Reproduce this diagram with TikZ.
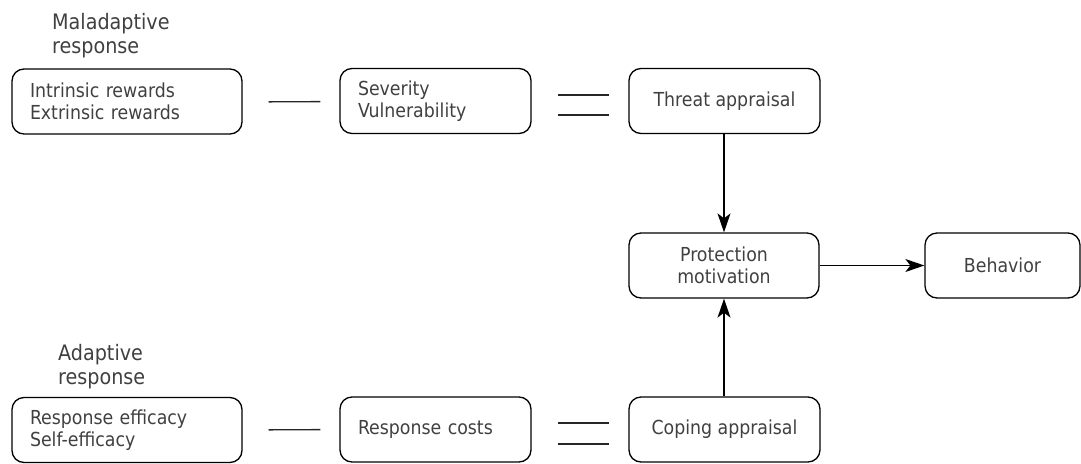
\documentclass[tikz,border=0pt]{standalone}
\usepackage{fontspec}
\setmainfont{DejaVu Sans Condensed}
\usetikzlibrary{arrows.meta}
\begin{document}
\begin{tikzpicture}[x=1pt,y=-1pt,
  txt/.style={text=black!75,font=\fontsize{19.3}{22.5}\selectfont},
  head/.style={text=black!75,font=\fontsize{21.3}{23.5}\selectfont,align=left,anchor=west,inner sep=0pt},
  box/.style={txt,draw=black,line width=1.3pt,rounded corners=12pt,inner ysep=0pt,minimum height=65pt},
  leftbox/.style={box,align=left,inner xsep=18pt,text width=#1-36pt,minimum width=#1},
  midbox/.style={box,align=center,inner xsep=0pt,minimum width=#1},
  link/.style={line width=1.3pt,draw=black!85,shorten <=26pt,shorten >=19pt},
  arr/.style={line width=1.3pt,-{Stealth[length=19pt,width=13pt,inset=5pt]}}]
\useasboundingbox (0,0) rectangle (1081,463);

% upper row: threat side
\node[head] (mal) at (52,35.5) {Maladaptive\\response};
\node[leftbox=230pt] (ir) at (127,101.5) {Intrinsic rewards\\Extrinsic rewards};
\node[leftbox=191pt] (sv) at (435.5,101) {Severity\\Vulnerability};
\node[midbox=191pt] (ta) at (724.5,101) {Threat appraisal};

% middle row
\node[midbox=190pt] (pm) at (724,265.5) {Protection\\motivation};
\node[midbox=155pt] (bh) at (1002.5,265.5) {Behavior};

% lower row: coping side
\node[head] (ada) at (58,366.5) {Adaptive\\response};
\node[leftbox=230pt] (re) at (127,430) {Response efficacy\\Self-efficacy};
\node[leftbox=191pt] (rc) at (435.5,429.5) {Response costs};
\node[midbox=191pt] (ca) at (724.5,429.5) {Coping appraisal};

% plain links between the boxes of each row
\draw[link] ([yshift=-0.5pt]ir.east) -- ([yshift=-0.5pt]sv.west);
\draw[link] ([yshift=6pt]sv.east) -- ([yshift=6pt]ta.west);
\draw[link] ([yshift=-14pt]sv.east) -- ([yshift=-14pt]ta.west);
\draw[link] (re.east) -- (rc.west);
\draw[link] ([yshift=6.5pt]rc.east) -- ([yshift=6.5pt]ca.west);
\draw[link] ([yshift=-14.5pt]rc.east) -- ([yshift=-14.5pt]ca.west);

% arrows into and out of protection motivation
\draw[arr] (ta.south -| pm.north) -- (pm.north);
\draw[arr] (ca.north -| pm.south) -- (pm.south);
\draw[arr] (pm.east) -- (bh.west);
\end{tikzpicture}
\end{document}
